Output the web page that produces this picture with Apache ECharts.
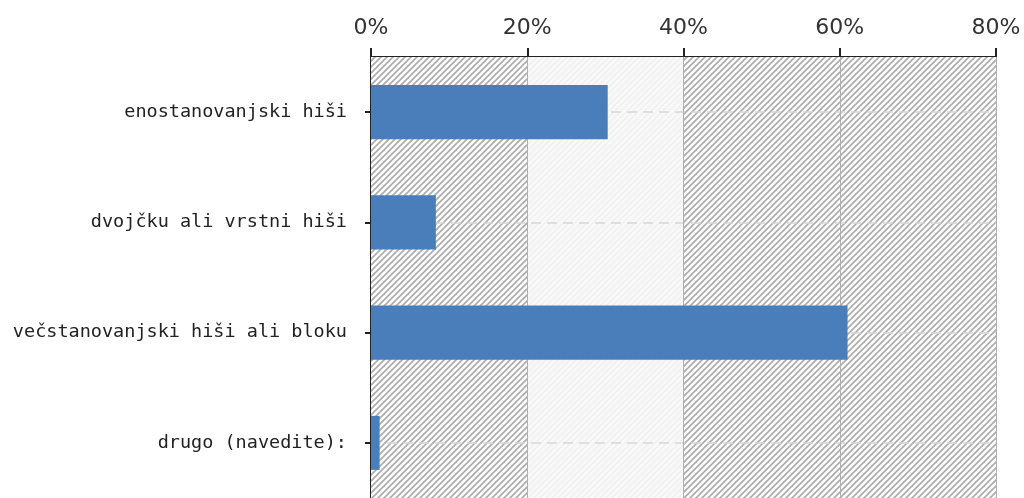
<!DOCTYPE html>
<html>
<head>
<meta charset="utf-8">
<script src="https://cdn.jsdelivr.net/npm/echarts@6/dist/echarts.min.js"></script>
<style>
html,body{margin:0;padding:0;background:#fff;}
#chart{width:1024px;height:498px;}
</style>
</head>
<body>
<div id="chart"></div>
<script>
// ---- data ----
var categories = ['enostanovanjski hiši', 'dvojčku ali vrstni hiši', 'večstanovanjski hiši ali bloku', 'drugo (navedite):'];
var values = [30.3, 8.3, 61.0, 1.1];
var xTicks = [0, 20, 40, 60, 80];
var hatchBands = [[0, 20], [40, 80]];
var lightBands = [[20, 40]];

function makePattern(bg, stroke, lw, s) {
  var c = document.createElement('canvas');
  c.width = s; c.height = s;
  var g = c.getContext('2d');
  g.fillStyle = bg; g.fillRect(0, 0, s, s);
  g.strokeStyle = stroke; g.lineWidth = lw;
  g.beginPath();
  g.moveTo(0, s); g.lineTo(s, 0);
  g.moveTo(-2, 2); g.lineTo(2, -2);
  g.moveTo(s - 2, s + 2); g.lineTo(s + 2, s - 2);
  g.stroke();
  return c;
}
var hatch = makePattern('#ffffff', '#adadad', 1.7, 6);
var faint = makePattern('#f9f9f9', '#efefef', 1.4, 6);

var areaData = [];
hatchBands.forEach(function (b) {
  areaData.push([{ xAxis: b[0], itemStyle: { color: { image: hatch, repeat: 'repeat' } } }, { xAxis: b[1] }]);
});
lightBands.forEach(function (b) {
  areaData.push([{ xAxis: b[0], itemStyle: { color: { image: faint, repeat: 'repeat' } } }, { xAxis: b[1] }]);
});

var lineData = categories.map(function (c) {
  return { yAxis: c, lineStyle: { type: [10, 6], color: '#d6d6d6', width: 1.5 } };
});
xTicks.slice(1).forEach(function (t) {
  lineData.push({ xAxis: t, lineStyle: { type: 'solid', color: '#b0b0b0', width: 1 } });
});

var chart = echarts.init(document.getElementById('chart'), null, { renderer: 'canvas' });
chart.setOption({
  animation: false,
  grid: { left: 371, right: 28, top: 57, bottom: 0, containLabel: false },
  xAxis: {
    type: 'value', position: 'top', min: 0, max: 80, interval: 20,
    axisLine: { show: true, lineStyle: { color: '#222', width: 2 } },
    axisTick: { show: true, length: 9, lineStyle: { color: '#222', width: 2 } },
    axisLabel: { formatter: '{value}%', margin: 18, fontSize: 22, color: '#333', fontFamily: 'DejaVu Sans' },
    splitLine: { show: false }
  },
  yAxis: {
    type: 'category', data: categories, inverse: true,
    axisLine: { show: true, lineStyle: { color: '#222', width: 2 } },
    axisTick: { show: true, alignWithLabel: true, length: 6, lineStyle: { color: '#222', width: 2 } },
    axisLabel: { margin: 24, fontSize: 18.5, color: '#222', fontFamily: 'DejaVu Sans Mono' },
    splitLine: { show: false }
  },
  series: [
    {
      type: 'line', data: [], z: 1, silent: true,
      markArea: { silent: true, z: 1, data: areaData }
    },
    {
      type: 'line', data: [], z: 2, silent: true,
      markLine: { silent: true, z: 2, symbol: 'none', label: { show: false }, data: lineData }
    },
    {
      type: 'bar', data: values, z: 10, barWidth: '49%',
      itemStyle: { color: '#4a7ebb' }
    }
  ]
});
</script>
</body>
</html>
